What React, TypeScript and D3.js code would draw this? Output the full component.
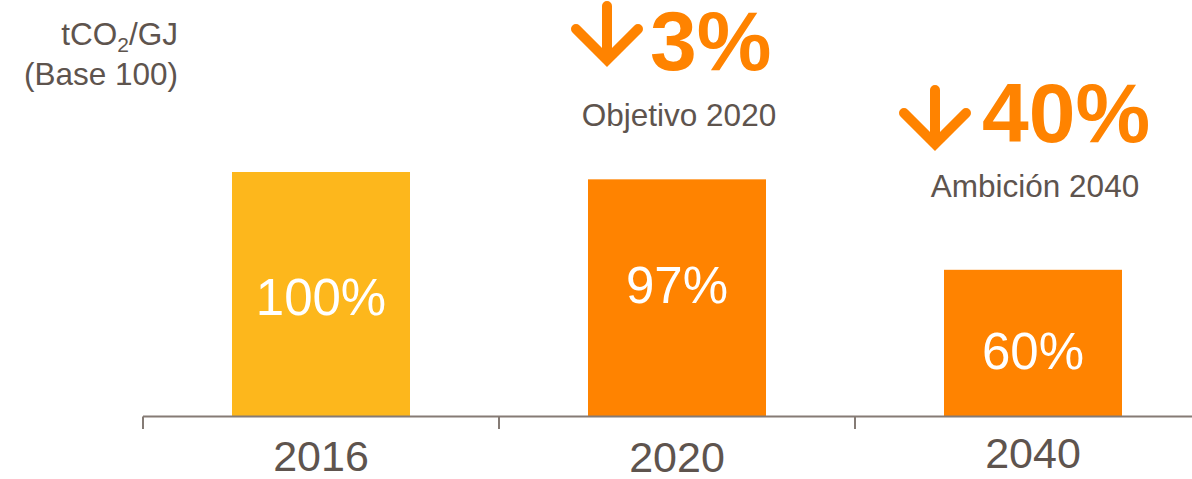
import React from "react";
import * as d3 from "d3";

const years = ["2016", "2020", "2040"];
const values = [100, 97, 60];
const barLabels = ["100%", "97%", "60%"];
const barColors = ["#FDB71C", "#FF8300", "#FF8300"];
const reductions = [
  { year: "2020", big: "3%", caption: "Objetivo 2020" },
  { year: "2040", big: "40%", caption: "Ambición 2040" },
];

const W = 1192;
const H = 479;
const FONT = "'Liberation Sans', Arial, Helvetica, sans-serif";
const TEXT = "#5E544E";
const ORANGE = "#FF8300";

export default function App() {
  const x = d3.scaleBand<string>().domain(years).range([143, 1211]).paddingInner(0.5).paddingOuter(0.25);
  const y = d3.scaleLinear().domain([0, 100]).range([416.5, 172]);
  const step = x.step();
  const tickXs = years.map((yr) => (x(yr) as number) - step * 0.25);
  const labelShift = [3, -13, 8];
  const yearBaseline = [471, 472, 468];

  const arrow = (cx: number, tipY: number) => {
    const p = d3.path();
    p.moveTo(cx, tipY - 56);
    p.lineTo(cx, tipY - 2);
    p.moveTo(cx - 31, tipY - 33);
    p.lineTo(cx, tipY - 2);
    p.lineTo(cx + 31, tipY - 33);
    return p.toString();
  };

  const reductionLayout: Record<string, { bigY: number; capY: number; arrowTip: number; arrowX: number; bigX: number }> = {
    "2020": { bigY: 70, capY: 126, arrowTip: 62, arrowX: 607, bigX: 650 },
    "2040": { bigY: 142, capY: 197, arrowTip: 146, arrowX: 935, bigX: 982 },
  };

  return (
    <svg width={W} height={H} style={{ position: "absolute", left: 0, top: 0, background: "#fff" }} fontFamily={FONT}>
      {/* unit label */}
      <text x={178} y={45} textAnchor="end" fontSize={31.5} fill={TEXT}>
        tCO<tspan fontSize={21} dy={7}>2</tspan>
        <tspan dy={-7}>/GJ</tspan>
      </text>
      <text x={178} y={85} textAnchor="end" fontSize={31.5} fill={TEXT}>(Base 100)</text>

      {/* bars */}
      {years.map((yr, i) => {
        const bx = x(yr) as number;
        const top = y(values[i]);
        const mid = (top + y(0)) / 2;
        return (
          <g key={yr}>
            <rect x={bx} y={top} width={x.bandwidth()} height={y(0) - top} fill={barColors[i]} />
            <text x={bx + x.bandwidth() / 2} y={mid + 18 + labelShift[i]} textAnchor="middle" fontSize={51} fill="#fff">
              {barLabels[i]}
            </text>
          </g>
        );
      })}

      {/* axis */}
      <line x1={143} x2={W} y1={y(0)} y2={y(0)} stroke="#857B75" strokeWidth={2} />
      {tickXs.map((tx, i) => (
        <line key={i} x1={tx} x2={tx} y1={y(0)} y2={429} stroke="#857B75" strokeWidth={2} />
      ))}
      {years.map((yr, i) => (
        <text key={yr} x={(x(yr) as number) + x.bandwidth() / 2} y={yearBaseline[i]} textAnchor="middle" fontSize={43} fill={TEXT}>
          {yr}
        </text>
      ))}

      {/* reductions */}
      {reductions.map((r) => {
        const L = reductionLayout[r.year];
        const cx = (x(r.year) as number) + x.bandwidth() / 2;
        return (
          <g key={r.year}>
            <path d={arrow(L.arrowX, L.arrowTip)} fill="none" stroke={ORANGE} strokeWidth={10} strokeLinecap="round" strokeLinejoin="miter" />
            <text x={L.bigX} y={L.bigY} fontSize={84} fontWeight="bold" fill={ORANGE}>{r.big}</text>
            <text x={cx + 2} y={L.capY} textAnchor="middle" fontSize={31.5} fill={TEXT}>{r.caption}</text>
          </g>
        );
      })}
    </svg>
  );
}
